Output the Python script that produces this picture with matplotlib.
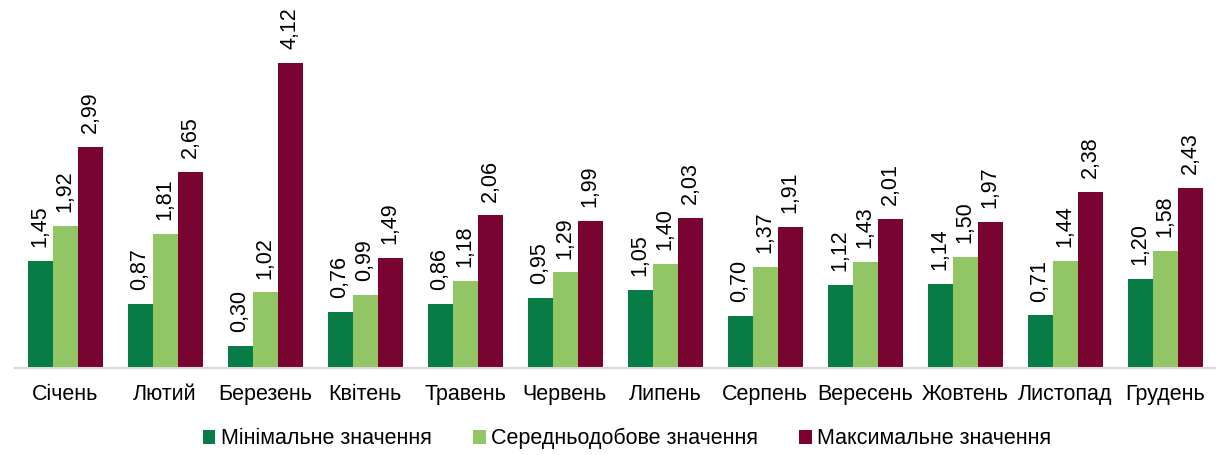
import matplotlib
matplotlib.use("Agg")
import matplotlib.pyplot as plt
import numpy as np

plt.rcParams['font.family'] = ['Liberation Sans', 'DejaVu Sans']

months = ["Січень", "Лютий", "Березень", "Квітень", "Травень", "Червень",
          "Липень", "Серпень", "Вересень", "Жовтень", "Листопад", "Грудень"]
min_vals = [1.45, 0.87, 0.30, 0.76, 0.86, 0.95, 1.05, 0.70, 1.12, 1.14, 0.71, 1.20]
avg_vals = [1.92, 1.81, 1.02, 0.99, 1.18, 1.29, 1.40, 1.37, 1.43, 1.50, 1.44, 1.58]
max_vals = [2.99, 2.65, 4.12, 1.49, 2.06, 1.99, 2.03, 1.91, 2.01, 1.97, 2.38, 2.43]
series_names = ["Мінімальне значення", "Середньодобове значення", "Максимальне значення"]
colors = ["#077d45", "#92c665", "#7a0431"]

fig = plt.figure(figsize=(12.22, 4.55), dpi=100)
ax = fig.add_axes([15 / 1222, 87 / 455, 1200 / 1222, 368 / 455])

x = np.arange(len(months))
w = 0.25
for i, (vals, name, c) in enumerate(zip([min_vals, avg_vals, max_vals], series_names, colors)):
    bars = ax.bar(x + (i - 1) * w, vals, w, color=c, label=name)
    for b, v in zip(bars, vals):
        ax.annotate(f"{v:.2f}".replace(".", ","), (b.get_x() + b.get_width() / 2, v),
                    xytext=(0, 10), textcoords="offset points", rotation=90,
                    ha="center", va="bottom", fontsize=15.5)

ax.set_xlim(-0.5, 11.5)
ax.set_ylim(0, 4.97)
ax.set_xticks(x)
ax.set_xticklabels(months, fontsize=15.5)
ax.tick_params(axis="x", length=0, pad=11.5)
ax.set_yticks([])
for s in ["top", "right", "left"]:
    ax.spines[s].set_visible(False)
ax.spines["bottom"].set_color("#d9d9d9")
ax.spines["bottom"].set_linewidth(1.5)

fig.legend(loc="lower center", bbox_to_anchor=(0.513, -0.03), ncol=3, frameon=False,
           fontsize=15.5, handlelength=0.6, handleheight=0.6, handletextpad=0.25,
           columnspacing=1.9)

fig.savefig("out.png", dpi=100)
